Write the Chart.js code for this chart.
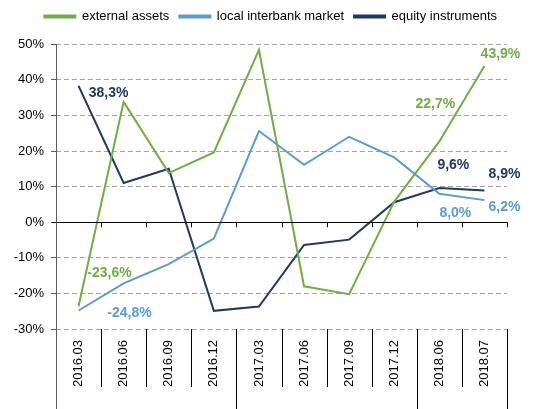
<!DOCTYPE html>
<html>
<head>
<meta charset="utf-8">
<script src="https://cdn.jsdelivr.net/npm/chart.js@4"></script>
<style>
    html, body { margin:0; padding:0; background:#fff; }
    #wrap { width:538px; height:409px; }
</style>
</head>
<body>
<div id="wrap"><canvas id="lineChart" width="538" height="409"></canvas></div>
<script>
const categories = ['2016.03','2016.06','2016.09','2016.12','2017.03','2017.06','2017.09','2017.12','2018.06','2018.07'];
const groupBreaks = [4, 8];   // separators between year groups

const externalAssets = [-23.6, 33.8, 13.8, 19.6, 48.4, -18.0, -20.2, 5.8, 22.7, 43.9];
const localInterbank = [-24.8, -17.2, -11.8, -4.6, 25.6, 16.1, 24.0, 18.2, 8.0, 6.2];
const equityInstruments = [38.3, 11.0, 15.0, -24.9, -23.7, -6.4, -4.9, 5.6, 9.6, 8.9];

const yTicks = [-30, -20, -10, 0, 10, 20, 30, 40, 50];

// which points carry a value label, and where it sits relative to the point
const labelled = [
    { ds:0, i:0, dx:31, dy:-33 },
    { ds:0, i:8, dx:-4, dy:-37 },
    { ds:0, i:9, dx:16, dy:-12 },
    { ds:1, i:0, dx:51, dy:3 },
    { ds:1, i:8, dx:16, dy:19 },
    { ds:1, i:9, dx:20, dy:7 },
    { ds:2, i:0, dx:30, dy:7 },
    { ds:2, i:8, dx:14, dy:-23 },
    { ds:2, i:9, dx:20, dy:-16 }
];

const FONT = 'Arial, "Liberation Sans", sans-serif';

const axisPlugin = {
    id:'axisPlugin',
    afterDraw(chart){
        const ctx = chart.ctx;
        const x = chart.scales.x;
        const y = chart.scales.y;
        const area = chart.chartArea;
        const n = categories.length;
        const step = (x.right - x.left) / n;
        const y0 = y.getPixelForValue(0);

        ctx.save();
        ctx.lineWidth = 1;
        ctx.strokeStyle = '#000';

        // zero line with little ticks
        ctx.beginPath();
        ctx.moveTo(x.left - 4, Math.round(y0) + 0.5);
        ctx.lineTo(x.right, Math.round(y0) + 0.5);
        for(let i = 1; i <= n; i++){
            let px = Math.round(x.left + step * i) + 0.5;
            ctx.moveTo(px, y0);
            ctx.lineTo(px, y0 + 5);
        }
        ctx.stroke();

        // category separators below the plot
        ctx.beginPath();
        for(let i = 1; i < n; i++){
            let px = Math.round(x.left + step * i) + 0.5;
            let bottom = groupBreaks.includes(i) ? chart.height : area.bottom + 58;
            ctx.moveTo(px, area.bottom);
            ctx.lineTo(px, bottom);
        }
        let rx = Math.round(x.right) + 0.5;
        ctx.moveTo(rx, area.bottom);
        ctx.lineTo(rx, chart.height);
        ctx.stroke();

        // y axis line
        ctx.strokeStyle = '#595959';
        ctx.beginPath();
        let lx = Math.round(x.left) + 0.5;
        ctx.moveTo(lx, area.top);
        ctx.lineTo(lx, chart.height);
        ctx.stroke();

        // value labels
        ctx.font = 'bold 14px ' + FONT;
        ctx.textAlign = 'center';
        ctx.textBaseline = 'middle';
        labelled.forEach(l => {
            const ds = chart.data.datasets[l.ds];
            const pt = chart.getDatasetMeta(l.ds).data[l.i];
            ctx.fillStyle = ds.borderColor;
            ctx.fillText(ds.data[l.i].toFixed(1).replace('.', ',') + '%', pt.x + l.dx, pt.y + l.dy);
        });
        ctx.restore();
    }
};

new Chart(document.getElementById('lineChart'), {
    type:'line',

    data:{
        labels:categories,

        datasets:[{
            label:'external assets',
            data:externalAssets,
            borderColor:'#70AD47',
            backgroundColor:'#70AD47'
        },{
            label:'local interbank market',
            data:localInterbank,
            borderColor:'#5B9BD5',
            backgroundColor:'#5B9BD5'
        },{
            label:'equity instruments',
            data:equityInstruments,
            borderColor:'#1F3864',
            backgroundColor:'#1F3864'
        }]
    },

    options:{
        responsive:false,
        animation:false,
        devicePixelRatio:1,

        elements:{
            line:{ borderWidth:2, tension:0 },
            point:{ radius:0 }
        },

        layout:{
            padding:{ top:0, right:31, bottom:0, left:0 }
        },

        plugins:{
            legend:{
                position:'top',
                align:'end',
                labels:{
                    color:'#000',
                    font:{ family:FONT, size:13 },
                    boxWidth:31,
                    boxHeight:2,
                    padding:10
                }
            },
            // empty spacer between legend and plot
            subtitle:{
                display:true,
                text:'',
                weight:500,
                font:{ size:1 },
                padding:{ top:0, bottom:10 }
            },
            tooltip:{ enabled:false }
        },

        scales:{
            x:{
                offset:true,
                grid:{ display:false },
                border:{ display:false },
                ticks:{
                    color:'#000',
                    font:{ family:FONT, size:13 },
                    minRotation:90,
                    maxRotation:90,
                    padding:3
                },
                afterFit(scale){ scale.height = 80; }
            },

            y:{
                min:-30,
                max:50,
                afterBuildTicks(scale){
                    scale.ticks = yTicks.map(v => ({ value:v }));
                },
                grid:{
                    color:'#A6A6A6',
                    lineWidth:1,
                    tickLength:5,
                    tickColor:'#595959'
                },
                border:{ display:false, dash:[5,3] },
                ticks:{
                    color:'#000',
                    font:{ family:FONT, size:13 },
                    padding:7,
                    callback:v => v + '%'
                },
                afterFit(scale){ scale.width = 56; }
            }
        }
    },

    plugins:[axisPlugin]
});
</script>
</body>
</html>
